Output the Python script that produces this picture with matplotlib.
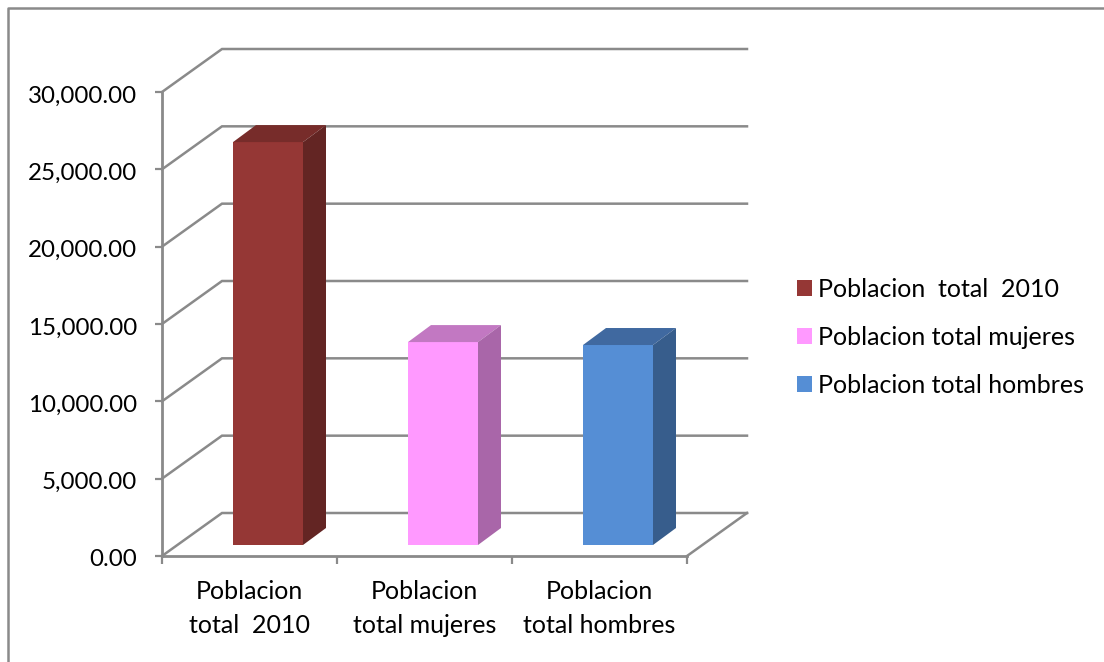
import matplotlib
matplotlib.use('Agg')
import matplotlib.pyplot as plt
from matplotlib.lines import Line2D
from matplotlib.patches import Patch, Polygon
from matplotlib.transforms import ScaledTranslation

########
# data #
########

categories = ['Poblacion\ntotal  2010', 'Poblacion\ntotal mujeres', 'Poblacion\ntotal hombres']
legend_labels = ['Poblacion  total  2010', 'Poblacion total mujeres', 'Poblacion total hombres']
values = [26050, 13120, 12930]
y_ticks = [0, 5000, 10000, 15000, 20000, 25000, 30000]

front_colors = ['#953735', '#FF99FF', '#558ED5']
top_colors = ['#772C2A', '#C278C2', '#4069A0']
side_colors = ['#632523', '#A966A9', '#375D8C']

#########
# setup #
#########

W, H = 1104, 662
GRAY = '#8A8A8A'
plt.rcParams['font.family'] = ['Lato', 'DejaVu Sans']

fig = plt.figure(figsize=(W / 100, H / 100), dpi=100)
# axes box in pixels: x 162-687, y 92-556
ax = fig.add_axes([162 / W, 1 - 556 / H, 525 / W, 464 / H])
ax.set_xlim(0, 3)
ax.set_ylim(0, 30000)
ax.patch.set_visible(False)

# size of the fake 3d depth, in data units
wall_dx = 60 / 175
wall_dy = 43 / 464 * 30000
bar_dx = 23 / 175
bar_dy = 17 / 464 * 30000
bar_shift = 18.5 / 175
bar_lift = 11 / 464 * 30000
bar_width = 70 / 175

#########
# walls #
#########

for v in y_ticks:
    ax.plot([0, wall_dx, 3 + wall_dx], [v, v + wall_dy, v + wall_dy],
            color=GRAY, lw=1.8, clip_on=False, zorder=1, solid_joinstyle='miter')
ax.plot([3, 3 + wall_dx], [0, wall_dy], color=GRAY, lw=1.8, clip_on=False, zorder=1)

########
# bars #
########

for i, v in enumerate(values):
    left = i + 0.5 + bar_shift - bar_width / 2
    right = left + bar_width
    top = v + bar_lift
    ax.bar(left, v, width=bar_width, bottom=bar_lift, align='edge',
           color=front_colors[i], zorder=3, clip_on=False)
    ax.add_patch(Polygon([(left, top), (right, top), (right + bar_dx, top + bar_dy),
                          (left + bar_dx, top + bar_dy)],
                         facecolor=top_colors[i], edgecolor='none', zorder=3, clip_on=False))
    ax.add_patch(Polygon([(right, bar_lift), (right, top), (right + bar_dx, top + bar_dy),
                          (right + bar_dx, bar_lift + bar_dy)],
                         facecolor=side_colors[i], edgecolor='none', zorder=3, clip_on=False))

########
# axes #
########

for name in ['top', 'right']:
    ax.spines[name].set_visible(False)
for name in ['left', 'bottom']:
    ax.spines[name].set_color(GRAY)
    ax.spines[name].set_linewidth(2)
    ax.spines[name].set_zorder(2)

ax.set_yticks(y_ticks)
ax.set_yticklabels(['{:,.2f}'.format(v) for v in y_ticks], fontsize=17.4)
ax.tick_params(axis='y', length=5, width=1.6, color=GRAY, pad=13)
# the labels sit about 2 px under their ticks in the reference
nudge = ScaledTranslation(0, -2 / 100, fig.dpi_scale_trans)
for label in ax.get_yticklabels():
    label.set_transform(label.get_transform() + nudge)

ax.set_xticks([0, 1, 2, 3])
ax.set_xticklabels([])
ax.tick_params(axis='x', which='major', length=6, width=1.6, color=GRAY)
ax.set_xticks([0.5, 1.5, 2.5], minor=True)
ax.set_xticklabels(categories, minor=True, fontsize=18, linespacing=1.6)
ax.tick_params(axis='x', which='minor', length=0, pad=17)

##########
# legend #
##########

handles = [Patch(facecolor=c, edgecolor='none') for c in front_colors]
fig.legend(handles, legend_labels, loc='upper left', bbox_to_anchor=(789.5 / W, 1 - 270 / H),
           frameon=False, fontsize=18, handlelength=0.6, handleheight=0.6,
           handletextpad=0.24, labelspacing=1.0, borderaxespad=0, borderpad=0.3)

################
# outer border #
################

fig.add_artist(Line2D([7.5 / W, 7.5 / W, 1], [0, 1 - 8 / H, 1 - 8 / H],
                      color=GRAY, lw=1.8, transform=fig.transFigure))

fig.savefig('out.png', dpi=100)
